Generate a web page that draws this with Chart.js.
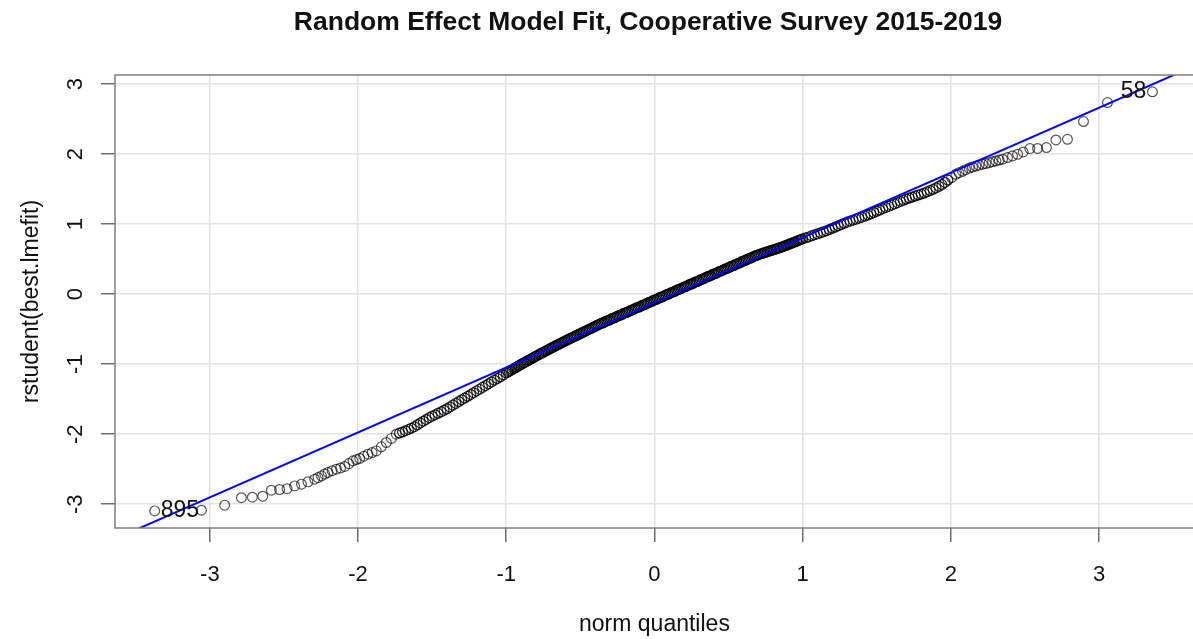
<!DOCTYPE html>
<html>
<head>
<meta charset="utf-8">
<title>Random Effect Model Fit</title>
<script src="https://cdn.jsdelivr.net/npm/chart.js@4.4.1/dist/chart.umd.min.js"></script>
<style>
  html, body { margin: 0; padding: 0; background: #fff; overflow: hidden; }
  #wrap { width: 1193px; height: 639px; overflow: hidden; }
  canvas { display: block; }
</style>
</head>
<body>
<div id="wrap"><canvas id="qq" width="1200" height="639"></canvas></div>
<script>
// studentized residuals against normal quantiles, [quantile, residual]
var lowerTail = [
  [-3.372,-3.096],[-3.057,-3.086],[-2.900,-3.014],[-2.787,-2.907],[-2.713,-2.900],
  [-2.643,-2.886],[-2.585,-2.800],[-2.529,-2.790],[-2.479,-2.779],[-2.428,-2.739],
  [-2.382,-2.714],[-2.338,-2.681],[-2.293,-2.643],[-2.270,-2.620],[-2.247,-2.596],
  [-2.225,-2.570],[-2.203,-2.547],[-2.175,-2.522],[-2.146,-2.500],[-2.118,-2.482],
  [-2.090,-2.461],[-2.062,-2.420],[-2.034,-2.381],[-2.011,-2.362],[-1.989,-2.347],
  [-1.961,-2.315],[-1.933,-2.286],[-1.905,-2.262],[-1.877,-2.239],[-1.843,-2.180],
  [-1.809,-2.119],[-1.775,-2.060],[-1.742,-2.000]
];

var lowerBand = [
  [-1.72,-1.983],[-1.70,-1.968],[-1.68,-1.950],[-1.66,-1.932],[-1.64,-1.915],
  [-1.62,-1.893],[-1.60,-1.866],[-1.58,-1.840],[-1.56,-1.815],[-1.54,-1.790],
  [-1.52,-1.764],[-1.50,-1.743],[-1.48,-1.722],[-1.46,-1.702],[-1.44,-1.681],
  [-1.42,-1.660],[-1.40,-1.637],[-1.38,-1.611],[-1.36,-1.585],[-1.34,-1.560],
  [-1.32,-1.534],[-1.30,-1.508],[-1.28,-1.484],[-1.26,-1.459],[-1.24,-1.433],
  [-1.22,-1.408],[-1.20,-1.382],[-1.18,-1.357],[-1.16,-1.331],[-1.14,-1.306],
  [-1.12,-1.280],[-1.10,-1.254],[-1.08,-1.229],[-1.06,-1.205],[-1.04,-1.180],
  [-1.02,-1.153]
];

var centerBand = [
  [-1.00,-1.126],[-0.99,-1.114],[-0.98,-1.101],[-0.97,-1.090],[-0.96,-1.077],
  [-0.95,-1.065],[-0.94,-1.052],[-0.93,-1.041],[-0.92,-1.028],[-0.91,-1.016],
  [-0.90,-1.003],[-0.89,-0.992],[-0.88,-0.980],[-0.87,-0.968],[-0.86,-0.956],
  [-0.85,-0.945],[-0.84,-0.933],[-0.83,-0.921],[-0.82,-0.909],[-0.81,-0.898],
  [-0.80,-0.886],[-0.79,-0.875],[-0.78,-0.863],[-0.77,-0.852],[-0.76,-0.841],
  [-0.75,-0.830],[-0.74,-0.818],[-0.73,-0.807],[-0.72,-0.796],[-0.71,-0.785],
  [-0.70,-0.773],[-0.69,-0.763],[-0.68,-0.752],[-0.67,-0.741],[-0.66,-0.730],
  [-0.65,-0.720],[-0.64,-0.709],[-0.63,-0.698],[-0.62,-0.687],[-0.61,-0.677],
  [-0.60,-0.666],[-0.59,-0.656],[-0.58,-0.645],[-0.57,-0.635],[-0.56,-0.625],
  [-0.55,-0.614],[-0.54,-0.604],[-0.53,-0.594],[-0.52,-0.584],[-0.51,-0.573],
  [-0.50,-0.563],[-0.49,-0.552],[-0.48,-0.542],[-0.47,-0.532],[-0.46,-0.522],
  [-0.45,-0.511],[-0.44,-0.501],[-0.43,-0.491],[-0.42,-0.481],[-0.41,-0.470],
  [-0.40,-0.460],[-0.39,-0.449],[-0.38,-0.440],[-0.37,-0.426],[-0.36,-0.417],
  [-0.35,-0.412],[-0.34,-0.403],[-0.33,-0.389],[-0.32,-0.380],[-0.31,-0.375],
  [-0.30,-0.366],[-0.29,-0.352],[-0.28,-0.343],[-0.27,-0.338],[-0.26,-0.328],
  [-0.25,-0.315],[-0.24,-0.306],[-0.23,-0.300],[-0.22,-0.291],[-0.21,-0.278],
  [-0.20,-0.269],[-0.19,-0.263],[-0.18,-0.254],[-0.17,-0.241],[-0.16,-0.231],
  [-0.15,-0.226],[-0.14,-0.217],[-0.13,-0.204],[-0.12,-0.194],[-0.11,-0.189],
  [-0.10,-0.180],[-0.09,-0.167],[-0.08,-0.157],[-0.07,-0.152],[-0.06,-0.143],
  [-0.05,-0.129],[-0.04,-0.120],[-0.03,-0.115],[-0.02,-0.106],[-0.01,-0.092],
  [0.00,-0.083],[0.01,-0.078],[0.02,-0.068],[0.03,-0.055],[0.04,-0.046],
  [0.05,-0.041],[0.06,-0.031],[0.07,-0.018],[0.08,-0.009],[0.09,-0.003],
  [0.10,0.006],[0.11,0.019],[0.12,0.028],[0.13,0.034],[0.14,0.043],
  [0.15,0.056],[0.16,0.065],[0.17,0.071],[0.18,0.080],[0.19,0.093],
  [0.20,0.103],[0.21,0.108],[0.22,0.117],[0.23,0.130],[0.24,0.140],
  [0.25,0.145],[0.26,0.154],[0.27,0.168],[0.28,0.177],[0.29,0.182],
  [0.30,0.191],[0.31,0.205],[0.32,0.214],[0.33,0.219],[0.34,0.229],
  [0.35,0.242],[0.36,0.251],[0.37,0.256],[0.38,0.266],[0.39,0.279],
  [0.40,0.288],[0.41,0.293],[0.42,0.303],[0.43,0.316],[0.44,0.325],
  [0.45,0.331],[0.46,0.340],[0.47,0.353],[0.48,0.362],[0.49,0.368],
  [0.50,0.377],[0.51,0.390],[0.52,0.400],[0.53,0.405],[0.54,0.414],
  [0.55,0.427],[0.56,0.437],[0.57,0.442],[0.58,0.451],[0.59,0.465],
  [0.60,0.474],[0.61,0.479],[0.62,0.488],[0.63,0.502],[0.64,0.511],
  [0.65,0.516],[0.66,0.525],[0.67,0.539],[0.68,0.548],[0.69,0.553],
  [0.70,0.563],[0.71,0.571],[0.72,0.577],[0.73,0.585],[0.74,0.591],
  [0.75,0.598],[0.76,0.605],[0.77,0.611],[0.78,0.619],[0.79,0.625],
  [0.80,0.632],[0.81,0.639],[0.82,0.645],[0.83,0.653],[0.84,0.659],
  [0.85,0.665],[0.86,0.674],[0.87,0.681],[0.88,0.690],[0.89,0.698],
  [0.90,0.706],[0.91,0.715],[0.92,0.723],[0.93,0.732],[0.94,0.740],
  [0.95,0.748],[0.96,0.757],[0.97,0.765],[0.98,0.774],[0.99,0.781],
  [1.00,0.790]
];

var upperBand = [
  [1.02,0.804],[1.04,0.818],[1.06,0.833],[1.08,0.847],[1.10,0.861],
  [1.12,0.876],[1.14,0.890],[1.16,0.905],[1.18,0.923],[1.20,0.941],
  [1.22,0.958],[1.24,0.976],[1.26,0.994],[1.28,1.012],[1.30,1.029],
  [1.32,1.043],[1.34,1.057],[1.36,1.071],[1.38,1.085],[1.40,1.099],
  [1.42,1.114],[1.44,1.130],[1.46,1.148],[1.48,1.166],[1.50,1.184],
  [1.52,1.202],[1.54,1.220],[1.56,1.237],[1.58,1.254],[1.60,1.271],
  [1.62,1.289],[1.64,1.306],[1.66,1.324],[1.68,1.341],[1.70,1.359],
  [1.72,1.373],[1.74,1.387],[1.76,1.401],[1.78,1.416],[1.80,1.430],
  [1.82,1.444],[1.84,1.462],[1.86,1.480],[1.88,1.498],[1.90,1.518],
  [1.92,1.540],[1.94,1.565],[1.96,1.595],[1.98,1.630]
];

var upperTail = [
  [2.005,1.665],[2.034,1.712],[2.055,1.735],[2.079,1.755],[2.100,1.778],
  [2.124,1.800],[2.146,1.815],[2.169,1.830],[2.190,1.843],[2.214,1.855],
  [2.236,1.866],[2.259,1.878],[2.281,1.890],[2.304,1.902],[2.326,1.915],
  [2.349,1.927],[2.382,1.951],[2.416,1.974],[2.450,1.998],[2.488,2.031],
  [2.533,2.079],[2.585,2.081],[2.645,2.094],[2.709,2.202],[2.787,2.212],
  [2.895,2.465],[3.057,2.737],[3.360,2.890]
];

// reference line drawn by qqPlot
var fitLineX = [-3.64, 3.64];
var fitLineY = [-3.496, 3.256];

// labelled extreme observations
var outlierIds = ['895', '58'];
var outlierXY = [[-3.372, -3.096], [3.360, 2.890]];

var xTickValues = [-3, -2, -1, 0, 1, 2, 3];
var yTickValues = [-3, -2, -1, 0, 1, 2, 3];

var titleText = 'Random Effect Model Fit, Cooperative Survey 2015-2019';
var xTitle = 'norm quantiles';
var yTitle = 'rstudent(best.lmefit)';

var FONT = '"Liberation Sans", Arial, Helvetica, sans-serif';

function toXY(list) {
  return list.map(function (p) { return { x: p[0], y: p[1] }; });
}
var tailPoints = toXY([].concat(lowerTail, upperTail));
var bandPoints = toXY([].concat(lowerBand, centerBand, upperBand));
var fitLine = fitLineX.map(function (x, i) { return { x: x, y: fitLineY[i] }; });

// R-style frame, tick labels, titles and point ids
var rDecor = {
  id: 'rDecor',
  afterDraw: function (chart) {
    var ctx = chart.ctx, a = chart.chartArea;
    var xs = chart.scales.x, ys = chart.scales.y;
    ctx.save();

    ctx.strokeStyle = '#7f7f7f';
    ctx.lineWidth = 1.5;
    ctx.strokeRect(a.left, a.top, a.right - a.left, a.bottom - a.top);

    ctx.fillStyle = '#111';
    ctx.font = '22px ' + FONT;
    ctx.textAlign = 'center';
    ctx.textBaseline = 'middle';
    xTickValues.forEach(function (v) {
      ctx.fillText(String(v), xs.getPixelForValue(v), 575);
    });
    yTickValues.forEach(function (v) {
      ctx.save();
      ctx.translate(76, ys.getPixelForValue(v));
      ctx.rotate(-Math.PI / 2);
      ctx.fillText(String(v), 0, 0);
      ctx.restore();
    });

    ctx.font = '23px ' + FONT;
    ctx.fillText(xTitle, (a.left + a.right) / 2, 625);
    ctx.save();
    ctx.translate(32, (a.top + a.bottom) / 2);
    ctx.rotate(-Math.PI / 2);
    ctx.fillText(yTitle, 0, 0);
    ctx.restore();

    ctx.font = 'bold 26.5px ' + FONT;
    ctx.fillText(titleText, 648, 23);

    ctx.font = '23px ' + FONT;
    outlierIds.forEach(function (id, i) {
      var left = outlierXY[i][0] < 0;
      var px = xs.getPixelForValue(outlierXY[i][0]);
      var py = ys.getPixelForValue(outlierXY[i][1]);
      ctx.textAlign = left ? 'left' : 'right';
      ctx.fillText(id, px + (left ? 6 : -6), py);
    });
    ctx.restore();
  }
};

function axisGrid() {
  return {
    color: '#e3e3e3',
    lineWidth: 1.5,
    drawTicks: true,
    tickLength: 14,
    tickColor: '#6e6e6e',
    tickWidth: 1.5
  };
}

function ringSet(points, colour) {
  return {
    type: 'scatter',
    data: points,
    pointStyle: 'circle',
    pointRadius: 4.9,
    borderWidth: 1.2,
    borderColor: colour,
    backgroundColor: 'rgba(0,0,0,0)',
    order: 1
  };
}

new Chart(document.getElementById('qq'), {
  data: {
    datasets: [
      {
        type: 'line',
        data: fitLine,
        borderColor: '#0000ff',
        borderWidth: 2,
        pointRadius: 0,
        fill: false,
        order: 0
      },
      ringSet(bandPoints, 'rgba(0,0,0,0.85)'),
      ringSet(tailPoints, 'rgba(0,0,0,0.66)')
    ]
  },
  options: {
    responsive: false,
    animation: false,
    devicePixelRatio: 1,
    layout: { padding: { top: 75, right: 5, left: 0, bottom: 0 } },
    plugins: {
      legend: { display: false },
      tooltip: { enabled: false },
      title: { display: false }
    },
    scales: {
      x: {
        type: 'linear',
        min: -3.64,
        max: 3.64,
        afterBuildTicks: function (s) { s.ticks = xTickValues.map(function (v) { return { value: v }; }); },
        afterFit: function (s) { s.height = 111; },
        ticks: { display: false },
        grid: axisGrid(),
        border: { display: false }
      },
      y: {
        type: 'linear',
        min: -3.34,
        max: 3.13,
        afterBuildTicks: function (s) { s.ticks = yTickValues.map(function (v) { return { value: v }; }); },
        afterFit: function (s) { s.width = 115; },
        ticks: { display: false },
        grid: axisGrid(),
        border: { display: false }
      }
    }
  },
  plugins: [rDecor]
});
</script>
</body>
</html>
